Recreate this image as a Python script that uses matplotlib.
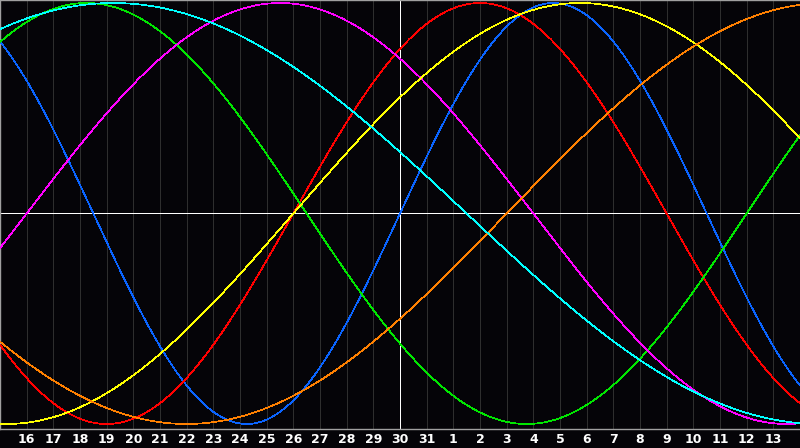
import numpy as np
import matplotlib
matplotlib.use("Agg")
import matplotlib.pyplot as plt

# Biorhythm cycles (days) and their colours
cycle_names = ["Physical", "Emotional", "Intellectual", "Intuitive", "Aesthetic", "Awareness", "Spiritual"]
cycle_lengths = [23, 28, 33, 38, 43, 48, 53]
cycle_colors = ["#0a64ff", "#ff0000", "#00e600", "#ff00ff", "#ffff00", "#ff8000", "#00ffff"]

# Days since birth at the first (left-edge) day of the chart
days_since_birth_start = 40925

# Day-of-month labels for the 31 day positions (first and last are not labelled)
day_labels = ["15", "16", "17", "18", "19", "20", "21", "22", "23", "24", "25", "26", "27", "28", "29",
              "30", "31", "1", "2", "3", "4", "5", "6", "7", "8", "9", "10", "11", "12", "13", "14"]
today_index = 15

W, H = 800, 448
fig = plt.figure(figsize=(W / 100, H / 100), dpi=100, facecolor="#050408")
plot_bottom_px = 428.5
ax = fig.add_axes([0, (H - plot_bottom_px) / H, 1, plot_bottom_px / H])
ax.set_facecolor("#050408")

n_days = len(day_labels) - 1
t = np.linspace(0, n_days, 2401)

# grid lines
for i in range(1, n_days):
    if i == today_index:
        continue
    ax.axvline(i, color="#2e2e2e", lw=0.72, antialiased=False, zorder=1)

for P, c in zip(cycle_lengths, cycle_colors):
    y = np.sin(2 * np.pi * (days_since_birth_start + t) / P)
    ax.plot(t, y, color=c, lw=0.5, antialiased=False, zorder=3)

ax.axhline(0, color="white", lw=0.7, antialiased=False, zorder=2)
ax.axvline(today_index, color="white", lw=0.7, antialiased=False, zorder=2)

amp_px = 210.5
ax.set_xlim(0, n_days)
ax.set_ylim(-1 - 4.5 / amp_px, 1 + 3 / amp_px)

ax.spines["right"].set_visible(False)
for s in ["top", "left", "bottom"]:
    ax.spines[s].set_color("#a0a0a0")
    ax.spines[s].set_linewidth(1.0)

ax.set_yticks([])
ax.set_xticks(range(1, n_days))
ax.set_xticklabels(day_labels[1:n_days], color="white", fontsize=9, fontweight="bold",
                   family="DejaVu Sans")
ax.tick_params(axis="x", length=0, pad=3.5)

fig.savefig("out.png", dpi=100, facecolor=fig.get_facecolor())
